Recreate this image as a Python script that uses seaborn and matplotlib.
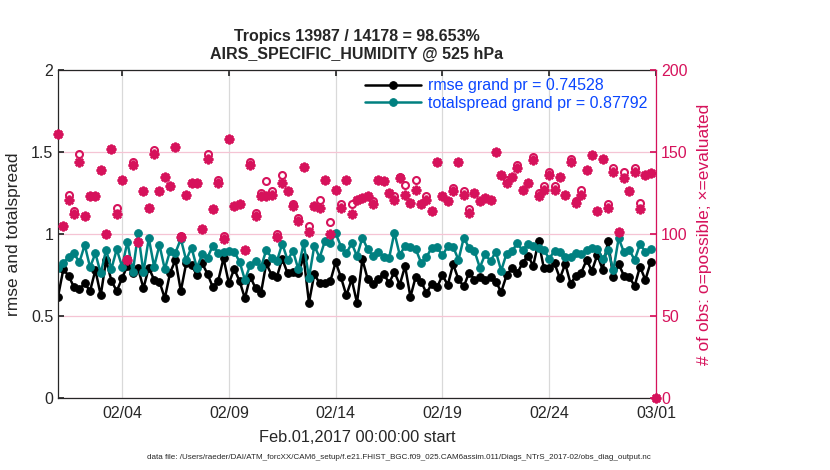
import numpy as np
import pandas as pd
import matplotlib
matplotlib.use('Agg')
import matplotlib.pyplot as plt
import matplotlib.dates as mdates
import seaborn as sns

# 6-hourly values, Feb 01 2017 00Z onwards
rmse = [0.618, 0.785, 0.744, 0.675, 0.663, 0.699, 0.652, 0.78, 0.626, 0.841,
        0.715, 0.652, 0.73, 0.807, 0.76, 0.79, 0.669, 0.795, 0.72, 0.709,
        0.608, 0.764, 0.841, 0.652, 0.82, 0.811, 0.75, 0.821, 0.756, 0.675,
        0.715, 0.852, 0.699, 0.787, 0.713, 0.608, 0.74, 0.669, 0.638, 0.82,
        0.75, 0.74, 0.848, 0.76, 0.767, 0.76, 0.858, 0.581, 0.756, 0.699,
        0.699, 0.712, 0.828, 0.735, 0.626, 0.723, 0.58, 0.846, 0.724, 0.694,
        0.724, 0.758, 0.7, 0.768, 0.69, 0.804, 0.616, 0.74, 0.71, 0.64,
        0.695, 0.675, 0.748, 0.689, 0.816, 0.723, 0.68, 0.765, 0.722, 0.737,
        0.718, 0.737, 0.71, 0.646, 0.747, 0.79, 0.76, 0.823, 0.868, 0.806,
        0.956, 0.79, 0.792, 0.82, 0.73, 0.818, 0.697, 0.745, 0.765, 0.841,
        0.776, 0.872, 0.783, 0.955, 0.735, 0.816, 0.745, 0.735, 0.684, 0.801,
        0.72, 0.827]
spread = [0.791, 0.821, 0.862, 0.882, 0.827, 0.933, 0.797, 0.882, 0.76, 0.902,
          0.787, 0.907, 0.801, 0.953, 0.766, 1.004, 0.766, 0.974, 0.801, 0.933,
          0.785, 0.898, 0.886, 0.97, 0.84, 0.917, 0.795, 0.876, 0.856, 0.929,
          0.886, 0.892, 0.896, 0.892, 0.831, 0.72, 0.81, 0.833, 0.796, 0.902,
          0.855, 0.835, 0.941, 0.84, 0.898, 0.785, 0.945, 0.732, 0.928, 0.856,
          0.958, 0.945, 1.004, 0.923, 0.882, 0.943, 0.865, 0.977, 0.907, 0.866,
          0.89, 0.862, 0.852, 1.008, 0.872, 0.927, 0.923, 0.908, 0.824, 0.859,
          0.917, 0.918, 0.869, 0.926, 0.923, 0.841, 0.978, 0.913, 0.896, 0.795,
          0.876, 0.835, 0.892, 0.776, 0.88, 0.894, 0.943, 0.9, 0.938, 0.925,
          0.912, 0.9, 0.85, 0.898, 0.892, 0.86, 0.86, 0.882, 0.878, 0.902,
          0.913, 0.91, 0.85, 0.902, 0.778, 0.974, 0.888, 0.902, 0.841, 0.937,
          0.892, 0.909]
n_possible = [161, 105, 124, 114, 149, 111, 123, 123, 139, 100,
              152, 116, 133, 85, 144, 95, 126, 116, 151, 126,
              135, 129, 153, 99, 124, 131, 131, 103, 149, 115,
              133, 99, 158, 117, 118, 90, 144, 113, 125, 132,
              126, 100, 136, 126, 118, 110, 141, 105, 117, 121,
              133, 107, 127, 118, 133, 118, 121, 122, 123, 120,
              133, 132, 125, 123, 135, 130, 119, 133, 118, 123,
              114, 144, 123, 120, 128, 144, 126, 115, 125, 120,
              122, 121, 150, 136, 133, 135, 142, 127, 131, 147,
              125, 129, 138, 129, 135, 124, 146, 120, 127, 139,
              148, 114, 146, 118, 140, 101, 138, 126, 140, 119,
              136, 137, 0]
n_evaluated = [161, 105, 121, 112, 144, 111, 123, 123, 139, 100,
               152, 112, 133, 84, 142, 95, 126, 116, 149, 126,
               135, 129, 153, 98, 124, 131, 131, 103, 146, 115,
               131, 97, 158, 117, 118, 90, 142, 111, 123, 123,
               124, 98, 131, 126, 117, 108, 141, 101, 117, 116,
               133, 100, 127, 116, 133, 112, 121, 122, 123, 118,
               133, 132, 125, 121, 134, 124, 119, 127, 118, 121,
               114, 144, 123, 120, 126, 144, 124, 113, 125, 120,
               122, 121, 150, 136, 131, 135, 140, 127, 131, 145,
               123, 127, 136, 127, 135, 124, 144, 119, 124, 139,
               148, 114, 146, 116, 138, 101, 134, 126, 138, 115,
               136, 137, 0]
tick_labels = ['02/04', '02/09', '02/14', '02/19', '02/24', '03/01']
rmse_label = 'rmse grand pr = 0.74528'
spread_label = 'totalspread grand pr = 0.87792'

times = pd.date_range('2017-02-01', periods=len(rmse), freq='6h')
obs_times = pd.date_range('2017-02-01', periods=len(n_possible), freq='6h')
tick_dates = pd.to_datetime(['2017-' + t.replace('/', '-') for t in tick_labels])

sns.set_theme(style='white')
plt.rcParams['font.family'] = ['Liberation Sans', 'DejaVu Sans']
plt.rcParams['font.size'] = 11.5

crimson = '#D6125B'
teal = '#008080'
legend_blue = '#0A46FF'

fig = plt.figure(figsize=(8.3, 4.7), dpi=100)
ax = fig.add_axes([0.0699, 0.1532, 0.7205, 0.698])
ax2 = ax.twinx()

sns.lineplot(x=times, y=rmse, ax=ax, color='black', marker='o', markersize=5.5,
             markeredgecolor='black', linewidth=1.8, label=rmse_label)
sns.lineplot(x=times, y=spread, ax=ax, color=teal, marker='o', markersize=5.5,
             markeredgecolor=teal, linewidth=1.8, label=spread_label)

sns.lineplot(x=obs_times, y=n_possible, ax=ax2, color=crimson, linestyle='',
             marker='o', markersize=5, markerfacecolor='none',
             markeredgecolor=crimson, markeredgewidth=1.5, clip_on=False)
sns.lineplot(x=obs_times, y=n_evaluated, ax=ax2, color=crimson, linestyle='',
             marker=(8, 2, 0), markersize=7, markeredgecolor=crimson,
             markeredgewidth=1.8, clip_on=False)

ax.set_xlim(pd.Timestamp('2017-02-01'), pd.Timestamp('2017-03-01'))
ax.set_ylim(0, 2)
ax2.set_ylim(0, 200)
ax.set_xticks(tick_dates)
ax.xaxis.set_major_formatter(mdates.DateFormatter('%m/%d'))
ax.set_yticks([0, 0.5, 1, 1.5, 2])
ax.set_yticklabels(['0', '0.5', '1', '1.5', '2'])
ax2.set_yticks([0, 50, 100, 150, 200])

ax.set_axisbelow(True)
ax.grid(axis='x', color='#D9D9D9', linewidth=0.9)
ax.grid(axis='y', color='#F5C4D4', linewidth=0.9)
ax2.grid(False)

ax.tick_params(axis='both', direction='in', length=4, colors='#262626',
               labelcolor='#262626', top=True, labelsize=11.5)
ax.tick_params(axis='x', pad=6)
ax2.tick_params(axis='y', direction='in', length=4, colors=crimson,
                labelcolor=crimson, labelsize=11.5)

for side in ['left', 'top', 'bottom']:
    ax.spines[side].set_color('#262626')
    ax2.spines[side].set_visible(False)
ax.spines['right'].set_visible(False)
ax2.spines['right'].set_color(crimson)
for sp in ax.spines.values():
    sp.set_linewidth(0.9)
ax2.spines['right'].set_linewidth(0.9)

ax.set_xlabel('Feb.01,2017 00:00:00 start', fontsize=11.8, labelpad=6)
ax.set_ylabel('rmse and totalspread', fontsize=12.5, labelpad=7)
ax2.set_ylabel('# of obs: o=possible; \u00d7=evaluated', color=crimson,
               fontsize=12.5, labelpad=7)
ax.set_title('Tropics 13987 / 14178 = 98.653%\nAIRS_SPECIFIC_HUMIDITY @ 525 hPa',
             fontsize=11.5, fontweight='bold', pad=8, linespacing=1.2)

leg = ax.legend(loc='upper right', bbox_to_anchor=(0.985, 0.975), frameon=False,
                fontsize=11.5, handlelength=3.5, handletextpad=0.4,
                labelspacing=0.15, borderpad=0, borderaxespad=0,
                labelcolor=legend_blue)
ax.set_zorder(1)
ax2.set_zorder(2)
ax2.patch.set_visible(False)

fig.text(0.481, 0.026,
         'data file: /Users/raeder/DAI/ATM_forcXX/CAM6_setup/f.e21.FHIST_BGC.f09_025.CAM6assim.011/Diags_NTrS_2017-02/obs_diag_output.nc',
         ha='center', va='center', fontsize=5.8)

fig.savefig('out.png', dpi=100, facecolor='white')
